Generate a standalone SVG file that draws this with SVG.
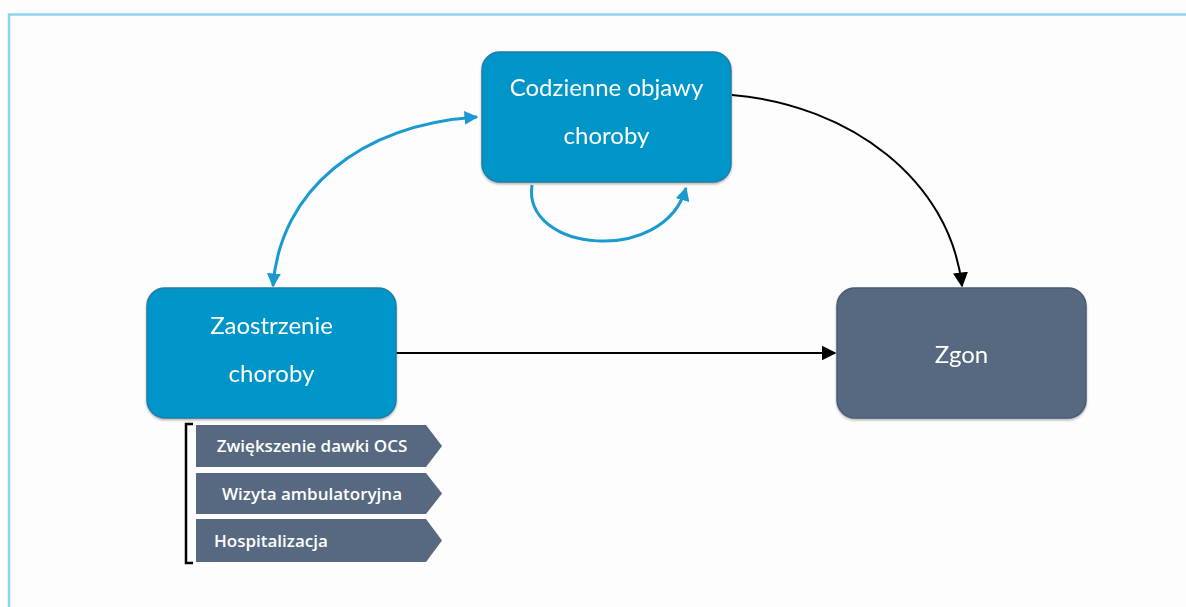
<svg xmlns="http://www.w3.org/2000/svg" width="1186" height="607" viewBox="0 0 1186 607">
<defs>
<style>
.box{fill:#0095c8;stroke:#1f7ea6;stroke-width:1.5}
.dark{fill:#566980;stroke:#4a5b70;stroke-width:1.5}
.chev{fill:#566980}
.t{font-family:Lato,"Open Sans",sans-serif;fill:#ffffff;font-size:24px;text-anchor:middle}
.ct{font-family:"Open Sans",Lato,sans-serif;fill:#ffffff;font-size:17px;font-weight:600}
.blk{fill:none;stroke:#000;stroke-width:2}
.blu{fill:none;stroke:#1a9ad0;stroke-width:3}
</style>
<marker id="ab" viewBox="0 0 10 10" refX="9" refY="5" markerWidth="15" markerHeight="15" markerUnits="userSpaceOnUse" orient="auto-start-reverse"><path d="M0,0 L10,5 L0,10 Z" fill="#000"/></marker>
<marker id="au" viewBox="0 0 10 10" refX="9" refY="5" markerWidth="14" markerHeight="14" markerUnits="userSpaceOnUse" orient="auto-start-reverse"><path d="M0,0 L10,5 L0,10 Z" fill="#1a9ad0"/></marker>
<filter id="sh" x="-5%" y="-5%" width="110%" height="115%"><feDropShadow dx="0" dy="1.5" stdDeviation="1.2" flood-color="#000" flood-opacity="0.3"/></filter>
</defs>
<rect width="1186" height="607" fill="#fdfdfd"/>
<path d="M9,607 V14.5 H1186" fill="none" stroke="#8fd2f0" stroke-width="2.5"/>
<g id="connectors">
<path class="blk" d="M396,353 H835" marker-end="url(#ab)"/>
<path class="blk" d="M732,95 C850,105 950,180 962,286" marker-end="url(#ab)"/>
<path class="blu" d="M477,117 C360,125 280,190 273,286" marker-start="url(#au)" marker-end="url(#au)"/>
<path class="blu" d="M532,185 C522,252 664,266 686,188" marker-end="url(#au)"/>
</g>
<g id="node-codzienne" filter="url(#sh)">
<rect class="box" x="482" y="52" width="249" height="130" rx="18"/>
<text class="t" x="606.5" y="96">Codzienne objawy</text>
<text class="t" x="606.5" y="144">choroby</text>
</g>
<g id="node-zaostrzenie" filter="url(#sh)">
<rect class="box" x="147" y="288" width="249" height="130" rx="18"/>
<text class="t" x="271.5" y="334">Zaostrzenie</text>
<text class="t" x="271.5" y="382">choroby</text>
</g>
<g id="node-zgon" filter="url(#sh)">
<rect class="dark" x="837" y="288" width="249" height="130" rx="18"/>
<text class="t" x="961.5" y="363" font-size="29">Zgon</text>
</g>
<g id="bracket">
<path d="M193,424 H186 V563 H193" fill="none" stroke="#000" stroke-width="2.5"/>
</g>
<g id="item-ocs">
<path class="chev" d="M196,425 H426 L442,446 L426,467 H196 Z"/>
<text class="ct" x="312" y="452" text-anchor="middle">Zwiększenie dawki OCS</text>
</g>
<g id="item-wizyta">
<path class="chev" d="M196,473 H426 L442,493.5 L426,514 H196 Z"/>
<text class="ct" x="312" y="499.5" text-anchor="middle">Wizyta ambulatoryjna</text>
</g>
<g id="item-hosp">
<path class="chev" d="M196,519 H426 L442,540.5 L426,562 H196 Z"/>
<text class="ct" x="214" y="546.5">Hospitalizacja</text>
</g>
</svg>
